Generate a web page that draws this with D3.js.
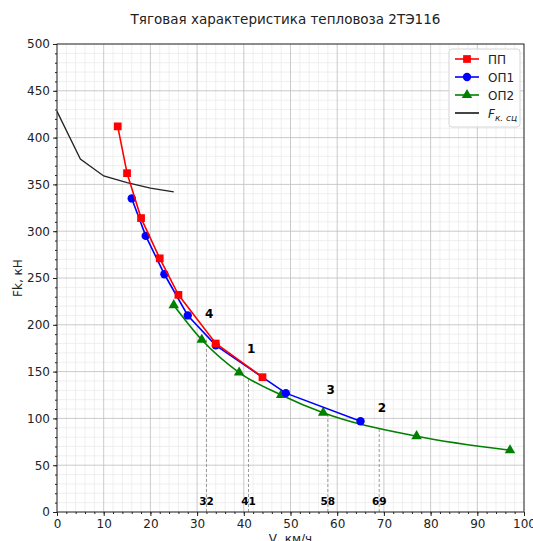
<!DOCTYPE html>
<html>
<head>
<meta charset="utf-8">
<script src="https://cdn.jsdelivr.net/npm/d3@7"></script>
<style>
    body { margin: 0; background: #fff; }
    svg { font-family: 'DejaVu Sans', sans-serif; }
</style>
</head>
<body>
<div id="chart"></div>
<script>
//
// DATA
//
// ПП - full field
const vPP = [13, 15, 18, 22, 26, 34, 44]
const fPP = [412, 362, 314, 271, 232, 180, 144]
// ОП1
const vOP1 = [16, 19, 23, 28, 34, 49, 65]
const fOP1 = [335, 295, 254, 210, 178, 127, 97]
// ОП2
const vOP2 = [25, 31, 39, 48, 57, 77, 97]
const fOP2 = [221, 184, 149, 125, 106, 81, 66]
// adhesion limit
const vSc = [0, 5, 10, 15, 20, 25]
const fSc = [428, 377, 359, 352, 346, 342]
// switching speeds
const vSwitch = [32, 41, 58, 69]
const fSwitch = [184, 144, 104, 91]
const switchNames = ['4', '1', '3', '2']
const switchNameF = [212, 174, 130, 111]

const xTicks = d3.range(0, 101, 10)
const yTicks = d3.range(0, 501, 50)

//
// DRAW
//
const width = 533
const height = 541
const margin = { top: 44, right: 9, bottom: 29, left: 57 }
const pw = width - margin.left - margin.right
const ph = height - margin.top - margin.bottom

const svg = d3.select('#chart')
    .append('svg')
    .attr('width', width)
    .attr('height', height)

const x = d3.scaleLinear().domain([0, 100]).range([0, pw])
const y = d3.scaleLinear().domain([0, 500]).range([ph, 0])

const g = svg.append('g').attr('transform', `translate(${margin.left},${margin.top})`)

// minor grid
g.append('g')
    .selectAll('line')
    .data(d3.range(0, 101, 2).filter(d => d % 10))
    .enter()
    .append('line')
    .attr('x1', d => x(d)).attr('x2', d => x(d))
    .attr('y1', 0).attr('y2', ph)
    .attr('stroke', '#ebebeb').attr('stroke-width', 0.8)
g.append('g')
    .selectAll('line')
    .data(d3.range(0, 501, 10).filter(d => d % 50))
    .enter()
    .append('line')
    .attr('y1', d => y(d)).attr('y2', d => y(d))
    .attr('x1', 0).attr('x2', pw)
    .attr('stroke', '#ebebeb').attr('stroke-width', 0.8)
// major grid
g.append('g')
    .selectAll('line')
    .data(xTicks)
    .enter()
    .append('line')
    .attr('x1', d => x(d)).attr('x2', d => x(d))
    .attr('y1', 0).attr('y2', ph)
    .attr('stroke', '#c4c4c4').attr('stroke-width', 0.9)
g.append('g')
    .selectAll('line')
    .data(yTicks)
    .enter()
    .append('line')
    .attr('y1', d => y(d)).attr('y2', d => y(d))
    .attr('x1', 0).attr('x2', pw)
    .attr('stroke', '#c4c4c4').attr('stroke-width', 0.9)

// dashed switching lines
g.append('g')
    .selectAll('line')
    .data(vSwitch)
    .enter()
    .append('line')
    .attr('x1', d => x(d)).attr('x2', d => x(d))
    .attr('y1', ph).attr('y2', (d, i) => y(fSwitch[i]))
    .attr('stroke', '#999').attr('stroke-width', 1)
    .attr('stroke-dasharray', '3,2')
g.append('g')
    .selectAll('text')
    .data(vSwitch)
    .enter()
    .append('text')
    .attr('x', d => x(d))
    .attr('y', y(8))
    .attr('text-anchor', 'middle')
    .attr('font-size', 10.5)
    .attr('font-weight', 'bold')
    .text(d => d)
g.append('g')
    .selectAll('text')
    .data(switchNames)
    .enter()
    .append('text')
    .attr('x', (d, i) => x(vSwitch[i] + 0.6))
    .attr('y', (d, i) => y(switchNameF[i]) + 4)
    .attr('text-anchor', 'middle')
    .attr('font-size', 12)
    .attr('font-weight', 'bold')
    .text(d => d)

// series
const series = [
    { name: 'ПП', v: vPP, f: fPP, color: '#ff0000', marker: d3.symbolSquare, size: 60, curve: d3.curveLinear },
    { name: 'ОП1', v: vOP1, f: fOP1, color: '#0000ff', marker: d3.symbolCircle, size: 55, curve: d3.curveLinear },
    { name: 'ОП2', v: vOP2, f: fOP2, color: '#008000', marker: d3.symbolTriangle, size: 48, curve: d3.curveMonotoneX }
]

// adhesion line
g.append('path')
    .attr('d', d3.line().x(d => x(d[0])).y(d => y(d[1]))(d3.zip(vSc, fSc)))
    .attr('fill', 'none')
    .attr('stroke', '#222')
    .attr('stroke-width', 1.3)

series.slice().reverse().forEach(s => {
    const pts = d3.zip(s.v, s.f)
    g.append('path')
        .attr('d', d3.line().curve(s.curve).x(d => x(d[0])).y(d => y(d[1]))(pts))
        .attr('fill', 'none')
        .attr('stroke', s.color)
        .attr('stroke-width', 1.6)
    g.append('g')
        .selectAll('path')
        .data(pts)
        .enter()
        .append('path')
        .attr('transform', d => `translate(${x(d[0])},${y(d[1])})`)
        .attr('d', d3.symbol().type(s.marker).size(s.size))
        .attr('fill', s.color)
})

// axes
g.append('g')
    .attr('transform', `translate(0,${ph})`)
    .call(d3.axisBottom(x).tickValues(xTicks).tickSize(4).tickPadding(3))
g.append('g')
    .call(d3.axisLeft(y).tickValues(yTicks).tickSize(4).tickPadding(3))
g.append('g')
    .attr('transform', `translate(0,${ph})`)
    .call(d3.axisBottom(x).tickValues(d3.range(0, 101, 2)).tickSize(2).tickFormat(''))
g.append('g')
    .call(d3.axisLeft(y).tickValues(d3.range(0, 501, 10)).tickSize(2).tickFormat(''))
g.selectAll('.domain').remove()
g.selectAll('.tick text').attr('font-size', 12).attr('fill', '#222').attr('font-family', 'DejaVu Sans')
g.selectAll('.tick line').attr('stroke', '#222')
// frame
g.append('rect')
    .attr('width', pw).attr('height', ph)
    .attr('fill', 'none').attr('stroke', '#222').attr('stroke-width', 0.9)

// titles
svg.append('text')
    .attr('x', margin.left + pw / 2 - 5)
    .attr('y', 24)
    .attr('text-anchor', 'middle')
    .attr('font-size', 13.5)
    .attr('fill', '#222')
    .text('Тяговая характеристика тепловоза 2ТЭ116')
svg.append('text')
    .attr('x', margin.left + pw / 2)
    .attr('y', 543)
    .attr('text-anchor', 'middle')
    .attr('font-size', 12)
    .attr('fill', '#222')
    .text('V, км/ч')
svg.append('text')
    .attr('transform', `translate(22,${margin.top + ph / 2}) rotate(-90)`)
    .attr('text-anchor', 'middle')
    .attr('font-size', 12)
    .attr('fill', '#222')
    .text('Fk, кН')

// legend
const legend = svg.append('g').attr('transform', 'translate(449,49)')
legend.append('rect')
    .attr('width', 71).attr('height', 78).attr('rx', 3)
    .attr('fill', 'rgba(255,255,255,0.85)').attr('stroke', '#d6d6d6')
const items = series.concat([{ name: 'F', color: '#222', marker: null }])
items.forEach((s, i) => {
    const yy = 10 + i * 18
    legend.append('line')
        .attr('x1', 6).attr('x2', 30).attr('y1', yy).attr('y2', yy)
        .attr('stroke', s.marker ? s.color : '#444').attr('stroke-width', s.marker ? 1.6 : 2)
    if (s.marker) {
        legend.append('path')
            .attr('transform', `translate(18,${yy})`)
            .attr('d', d3.symbol().type(s.marker).size(s.size))
            .attr('fill', s.color)
    }
    const t = legend.append('text')
        .attr('x', 39).attr('y', yy + 4.5)
        .attr('font-size', 12)
        .attr('fill', '#222')
    if (s.marker) {
        t.text(s.name)
    } else {
        t.append('tspan').attr('font-style', 'italic').text('F')
        t.append('tspan').attr('font-style', 'italic').attr('font-size', 9).attr('dy', 3).text('к. сц')
    }
})
</script>
</body>
</html>
